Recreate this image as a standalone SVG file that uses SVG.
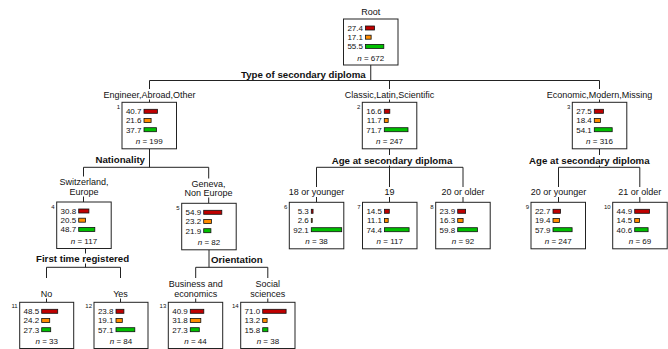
<svg xmlns="http://www.w3.org/2000/svg" width="668" height="349" viewBox="0 0 668 349">
<style>
text{font-family:"Liberation Sans",Arial,sans-serif;fill:#111}
.lab{font-size:9px;text-anchor:middle}
.var{font-size:9.7px;font-weight:bold}
.val{font-size:8px;text-anchor:end}
.n{font-size:8px;text-anchor:middle}
.id{font-size:6px;text-anchor:end}
.box{fill:#fff;stroke:#222;stroke-width:1}
.r{fill:#c00000;stroke:#111;stroke-width:0.8}
.o{fill:#ff8c00;stroke:#111;stroke-width:0.8}
.g{fill:#00c000;stroke:#111;stroke-width:0.8}
.e{stroke:#222;stroke-width:1;fill:none}
</style>
<g id="connectors" class="e">
<path d="M370.75 65V80.5M149.5 80.5H599.5M149.5 80.5V89M149.5 99.5V102.3M389.5 80.5V89M389.5 99.5V102.3M599.5 80.5V89M599.5 99.5V102.3"/>
<path d="M149.5 149V167.3M83.5 167.3H208.7M83.5 167.3V176.5M83.5 196.5V202M208.7 167.3V178.5M208.7 197.5V203.3"/>
<path d="M389.5 149V155M389.5 165.5V167.3M316.5 167.3H463M316.5 167.3V187M316.5 197V202.3M389.5 167.3V187M389.5 197V202.3M463 167.3V187M463 197V202.3"/>
<path d="M599.5 149V155M599.5 165.5V167.3M558.5 167.3H639.8M558.5 167.3V187M558.5 197V202.3M639.8 167.3V187M639.8 197V202.3"/>
<path d="M85.5 248.5V253.5M85.5 263.5V267.3M46.5 267.3H120.5M46.5 267.3V278M46.5 298.5V302.3M120.5 267.3V278M120.5 298.5V302.3"/>
<path d="M209 249.8V267.3M195.7 267.3H267.8M195.7 267.3V278M195.7 298.5V302.3M267.8 267.3V278M267.8 298.5V302.3"/>
</g>
<g id="edge-labels">
<text class="var" x="365.7" y="78.2" text-anchor="end">Type of secondary diploma</text>
<text class="lab" x="149.5" y="97.5">Engineer,Abroad,Other</text>
<text class="lab" x="389.5" y="97.5">Classic,Latin,Scientific</text>
<text class="lab" x="599.5" y="97.5">Economic,Modern,Missing</text>
<text class="var" x="145" y="163.2" text-anchor="end">Nationality</text>
<text class="var" x="331.7" y="164.3">Age at secondary diploma</text>
<text class="var" x="529" y="163.8">Age at secondary diploma</text>
<text class="lab" x="84" y="184.8">Switzerland,</text>
<text class="lab" x="84" y="194.5">Europe</text>
<text class="lab" x="208.5" y="186.5">Geneva,</text>
<text class="lab" x="208.5" y="195.8">Non Europe</text>
<text class="lab" x="316.5" y="194.8">18 or younger</text>
<text class="lab" x="389.5" y="194.8">19</text>
<text class="lab" x="463" y="194.8">20 or older</text>
<text class="lab" x="558.5" y="194.8">20 or younger</text>
<text class="lab" x="639.8" y="194.8">21 or older</text>
<text class="var" x="36" y="262">First time registered</text>
<text class="var" x="211" y="263">Orientation</text>
<text class="lab" x="46.5" y="296.5">No</text>
<text class="lab" x="120.5" y="296.5">Yes</text>
<text class="lab" x="195.7" y="286.5">Business and</text>
<text class="lab" x="195.7" y="296.5">economics</text>
<text class="lab" x="267.8" y="286.5">Social</text>
<text class="lab" x="267.8" y="296.5">sciences</text>
</g>
<text class="lab" x="370.75" y="14.8">Root</text>
<g id="node0" transform="translate(343.5,19)">
<rect class="box" width="54.5" height="46"/>
<text class="val" x="19.5" y="11.9">27.4</text><rect class="r" x="22" y="7" width="9.04" height="4"/>
<text class="val" x="19.5" y="21.1">17.1</text><rect class="o" x="22" y="16.2" width="5.64" height="4"/>
<text class="val" x="19.5" y="30.3">55.5</text><rect class="g" x="22" y="25.4" width="18.3" height="4"/>
<text class="n" x="27.25" y="42"><tspan font-style="italic">n</tspan> = 672</text>
</g>
<g id="node1" transform="translate(122,102.3)">
<rect class="box" width="54.5" height="46.5"/>
<text class="id" x="-2" y="6.5">1</text>
<text class="val" x="19.5" y="11.9">40.7</text><rect class="r" x="22" y="7" width="13.4" height="4"/>
<text class="val" x="19.5" y="21.1">21.6</text><rect class="o" x="22" y="16.2" width="7.1" height="4"/>
<text class="val" x="19.5" y="30.3">37.7</text><rect class="g" x="22" y="25.4" width="12.4" height="4"/>
<text class="n" x="27.25" y="42.2"><tspan font-style="italic">n</tspan> = 199</text>
</g>
<g id="node2" transform="translate(362.3,102.3)">
<rect class="box" width="54.5" height="46.5"/>
<text class="id" x="-2" y="6.5">2</text>
<text class="val" x="19.5" y="11.9">16.6</text><rect class="r" x="22" y="7" width="5.5" height="4"/>
<text class="val" x="19.5" y="21.1">11.7</text><rect class="o" x="22" y="16.2" width="3.9" height="4"/>
<text class="val" x="19.5" y="30.3">71.7</text><rect class="g" x="22" y="25.4" width="23.7" height="4"/>
<text class="n" x="27.25" y="42.2"><tspan font-style="italic">n</tspan> = 247</text>
</g>
<g id="node3" transform="translate(572.3,102.3)">
<rect class="box" width="54.5" height="46.5"/>
<text class="id" x="-2" y="6.5">3</text>
<text class="val" x="19.5" y="11.9">27.5</text><rect class="r" x="22" y="7" width="9.1" height="4"/>
<text class="val" x="19.5" y="21.1">18.4</text><rect class="o" x="22" y="16.2" width="6.1" height="4"/>
<text class="val" x="19.5" y="30.3">54.1</text><rect class="g" x="22" y="25.4" width="17.9" height="4"/>
<text class="n" x="27.25" y="42.2"><tspan font-style="italic">n</tspan> = 316</text>
</g>
<g id="node4" transform="translate(56.7,202)">
<rect class="box" width="54.5" height="46.5"/>
<text class="id" x="-2" y="6.5">4</text>
<text class="val" x="19.5" y="11.9">30.8</text><rect class="r" x="22" y="7" width="10.2" height="4"/>
<text class="val" x="19.5" y="21.1">20.5</text><rect class="o" x="22" y="16.2" width="6.8" height="4"/>
<text class="val" x="19.5" y="30.3">48.7</text><rect class="g" x="22" y="25.4" width="16.1" height="4"/>
<text class="n" x="27.25" y="42.2"><tspan font-style="italic">n</tspan> = 117</text>
</g>
<g id="node5" transform="translate(181.7,203.3)">
<rect class="box" width="54.5" height="46.5"/>
<text class="id" x="-2" y="6.5">5</text>
<text class="val" x="19.5" y="11.9">54.9</text><rect class="r" x="22" y="7" width="18.1" height="4"/>
<text class="val" x="19.5" y="21.1">23.2</text><rect class="o" x="22" y="16.2" width="7.7" height="4"/>
<text class="val" x="19.5" y="30.3">21.9</text><rect class="g" x="22" y="25.4" width="7.2" height="4"/>
<text class="n" x="27.25" y="42.2"><tspan font-style="italic">n</tspan> = 82</text>
</g>
<g id="node6" transform="translate(289.3,202.3)">
<rect class="box" width="54.5" height="46.5"/>
<text class="id" x="-2" y="6.5">6</text>
<text class="val" x="19.5" y="11.9">5.3</text><rect class="r" x="22" y="7" width="1.75" height="4"/>
<text class="val" x="19.5" y="21.1">2.6</text><rect class="o" x="22" y="16.2" width="0.9" height="4"/>
<text class="val" x="19.5" y="30.3">92.1</text><rect class="g" x="22" y="25.4" width="30.4" height="4"/>
<text class="n" x="27.25" y="42.2"><tspan font-style="italic">n</tspan> = 38</text>
</g>
<g id="node7" transform="translate(362.5,202.3)">
<rect class="box" width="54.5" height="46.5"/>
<text class="id" x="-2" y="6.5">7</text>
<text class="val" x="19.5" y="11.9">14.5</text><rect class="r" x="22" y="7" width="4.8" height="4"/>
<text class="val" x="19.5" y="21.1">11.1</text><rect class="o" x="22" y="16.2" width="3.7" height="4"/>
<text class="val" x="19.5" y="30.3">74.4</text><rect class="g" x="22" y="25.4" width="24.6" height="4"/>
<text class="n" x="27.25" y="42.2"><tspan font-style="italic">n</tspan> = 117</text>
</g>
<g id="node8" transform="translate(435.7,202.3)">
<rect class="box" width="54.5" height="46.5"/>
<text class="id" x="-2" y="6.5">8</text>
<text class="val" x="19.5" y="11.9">23.9</text><rect class="r" x="22" y="7" width="7.9" height="4"/>
<text class="val" x="19.5" y="21.1">16.3</text><rect class="o" x="22" y="16.2" width="5.4" height="4"/>
<text class="val" x="19.5" y="30.3">59.8</text><rect class="g" x="22" y="25.4" width="19.7" height="4"/>
<text class="n" x="27.25" y="42.2"><tspan font-style="italic">n</tspan> = 92</text>
</g>
<g id="node9" transform="translate(531,202.3)">
<rect class="box" width="54.5" height="46.5"/>
<text class="id" x="-2" y="6.5">9</text>
<text class="val" x="19.5" y="11.9">22.7</text><rect class="r" x="22" y="7" width="7.5" height="4"/>
<text class="val" x="19.5" y="21.1">19.4</text><rect class="o" x="22" y="16.2" width="6.4" height="4"/>
<text class="val" x="19.5" y="30.3">57.9</text><rect class="g" x="22" y="25.4" width="19.1" height="4"/>
<text class="n" x="27.25" y="42.2"><tspan font-style="italic">n</tspan> = 247</text>
</g>
<g id="node10" transform="translate(612.7,202.3)">
<rect class="box" width="54.5" height="46.5"/>
<text class="id" x="-2" y="6.5">10</text>
<text class="val" x="19.5" y="11.9">44.9</text><rect class="r" x="22" y="7" width="14.8" height="4"/>
<text class="val" x="19.5" y="21.1">14.5</text><rect class="o" x="22" y="16.2" width="4.8" height="4"/>
<text class="val" x="19.5" y="30.3">40.6</text><rect class="g" x="22" y="25.4" width="13.4" height="4"/>
<text class="n" x="27.25" y="42.2"><tspan font-style="italic">n</tspan> = 69</text>
</g>
<g id="node11" transform="translate(19.7,302.3)">
<rect class="box" width="54" height="46.2"/>
<text class="id" x="-2" y="6">11</text>
<text class="val" x="19.5" y="11.9">48.5</text><rect class="r" x="22" y="7" width="16" height="4"/>
<text class="val" x="19.5" y="21.1">24.2</text><rect class="o" x="22" y="16.2" width="8" height="4"/>
<text class="val" x="19.5" y="30.3">27.3</text><rect class="g" x="22" y="25.4" width="9" height="4"/>
<text class="n" x="27" y="42"><tspan font-style="italic">n</tspan> = 33</text>
</g>
<g id="node12" transform="translate(94,302.3)">
<rect class="box" width="54" height="46.2"/>
<text class="id" x="-2" y="6">12</text>
<text class="val" x="19.5" y="11.9">23.8</text><rect class="r" x="22" y="7" width="7.9" height="4"/>
<text class="val" x="19.5" y="21.1">19.1</text><rect class="o" x="22" y="16.2" width="6.3" height="4"/>
<text class="val" x="19.5" y="30.3">57.1</text><rect class="g" x="22" y="25.4" width="18.8" height="4"/>
<text class="n" x="27" y="42"><tspan font-style="italic">n</tspan> = 84</text>
</g>
<g id="node13" transform="translate(168.3,302.3)">
<rect class="box" width="54.4" height="46.2"/>
<text class="id" x="-2" y="6">13</text>
<text class="val" x="19.5" y="11.9">40.9</text><rect class="r" x="22" y="7" width="13.5" height="4"/>
<text class="val" x="19.5" y="21.1">31.8</text><rect class="o" x="22" y="16.2" width="10.5" height="4"/>
<text class="val" x="19.5" y="30.3">27.3</text><rect class="g" x="22" y="25.4" width="9" height="4"/>
<text class="n" x="27.2" y="42"><tspan font-style="italic">n</tspan> = 44</text>
</g>
<g id="node14" transform="translate(240.7,302.3)">
<rect class="box" width="54.3" height="46.2"/>
<text class="id" x="-2" y="6">14</text>
<text class="val" x="19.5" y="11.9">71.0</text><rect class="r" x="22" y="7" width="23.4" height="4"/>
<text class="val" x="19.5" y="21.1">13.2</text><rect class="o" x="22" y="16.2" width="4.4" height="4"/>
<text class="val" x="19.5" y="30.3">15.8</text><rect class="g" x="22" y="25.4" width="5.2" height="4"/>
<text class="n" x="27.2" y="42"><tspan font-style="italic">n</tspan> = 38</text>
</g>
</svg>
